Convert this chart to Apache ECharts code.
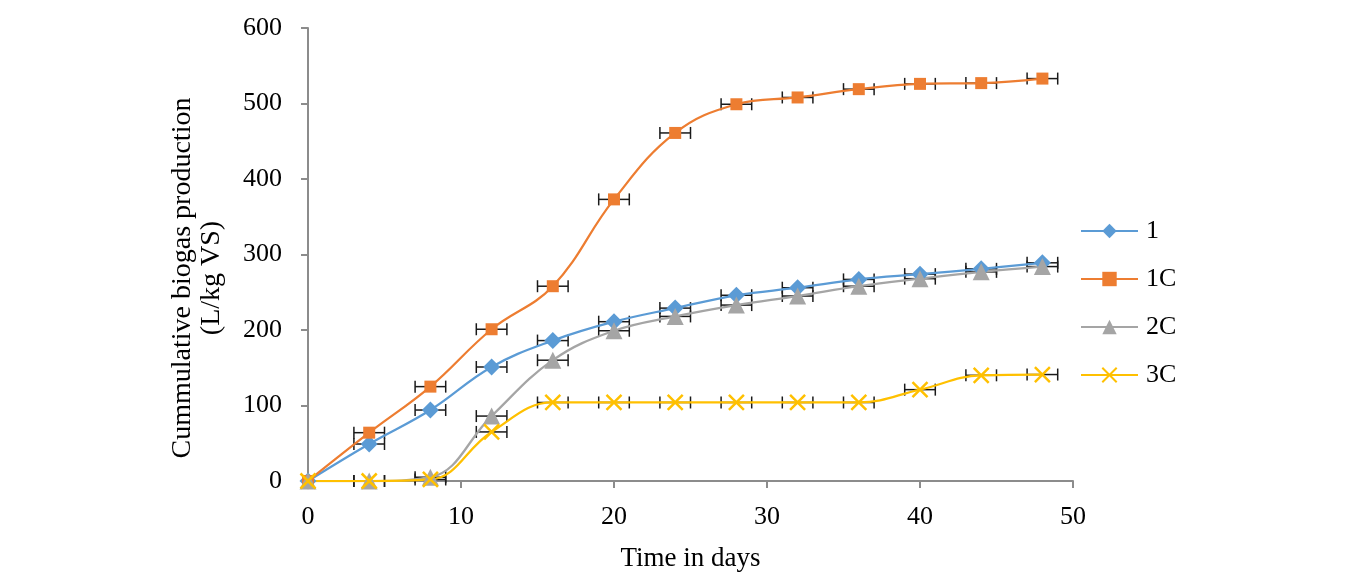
<!DOCTYPE html>
<html>
<head>
<meta charset="utf-8">
<script src="https://cdn.jsdelivr.net/npm/echarts@6/dist/echarts.min.js"></script>
<style>html,body{margin:0;padding:0;background:#fff}#c{width:1350px;height:588px}</style>
</head>
<body>
<div id="c"></div>
<script>
var days = [0, 4, 8, 12, 16, 20, 24, 28, 32, 36, 40, 44, 48];
var s1  = [0, 49, 94, 151, 186, 211, 229, 246, 256, 267, 274, 281, 289];
var s1C = [0, 64, 125, 201, 258, 373, 461, 499, 508, 519, 526, 527, 533];
var s2C = [0, 0, 5, 86, 160, 199, 218, 233, 245, 258, 268, 277, 284];
var s3C = [0, 0, 2, 65, 104, 104, 104, 104, 104, 104, 121, 140, 141];
var xError = [0, 1, 1, 1, 1, 1, 1, 1, 1, 1, 1, 1, 1];
var seriesNames = ['1', '1C', '2C', '3C'];
var xTicks = [0, 10, 20, 30, 40, 50];
var yTicks = [0, 100, 200, 300, 400, 500, 600];

var FONT = '"Liberation Serif","Times New Roman",serif';
var allVals = [s1, s1C, s2C, s3C];
var colors = ['#5B9BD5', '#ED7D31', '#A5A5A5', '#FFC000'];
var symbols = ['diamond', 'rect', 'triangle', 'path://M0,0L10,10M10,0L0,10'];
var sizes = [17, 12, 17, 15];

function pts(arr){ return days.map(function(d,i){ return [d, arr[i]]; }); }
function errPts(arr){ return days.map(function(d,i){ return [d, arr[i], xError[i]]; }); }

var series = [];
allVals.forEach(function(arr, k){
  series.push({
    type: 'custom',
    name: seriesNames[k] + ' err',
    z: 2,
    silent: true,
    data: errPts(arr),
    renderItem: function(params, api){
      var x = api.value(0), y = api.value(1), e = api.value(2);
      if (!e) return null;
      var a = api.coord([x - e, y]), b = api.coord([x + e, y]);
      var h = 6;
      var st = {stroke: '#1a1a1a', lineWidth: 1.5};
      return {type: 'group', children: [
        {type: 'line', shape: {x1: a[0], y1: a[1], x2: b[0], y2: b[1]}, style: st},
        {type: 'line', shape: {x1: a[0], y1: a[1] - h, x2: a[0], y2: a[1] + h}, style: st},
        {type: 'line', shape: {x1: b[0], y1: b[1] - h, x2: b[0], y2: b[1] + h}, style: st}
      ]};
    }
  });
});
allVals.forEach(function(arr, k){
  var isX = k === 3;
  series.push({
    type: 'line',
    name: seriesNames[k],
    z: 3,
    smooth: 0.4,
    data: pts(arr),
    symbol: symbols[k],
    symbolSize: sizes[k],
    showAllSymbol: true,
    lineStyle: {color: colors[k], width: 2.25},
    itemStyle: isX ? {color: colors[k], borderColor: colors[k], borderWidth: 2.5} : {color: colors[k], borderWidth: 0},
    emphasis: {disabled: true}
  });
});

var chart = echarts.init(document.getElementById('c'));
chart.setOption({
  animation: false,
  backgroundColor: '#fff',
  grid: {left: 308, right: 277, top: 28, bottom: 107, containLabel: false},
  legend: {
    orient: 'vertical',
    left: 1075,
    top: 213,
    data: seriesNames,
    itemWidth: 57,
    itemHeight: 18,
    itemGap: 22,
    textStyle: {fontFamily: FONT, fontSize: 26, color: '#000', padding: [0, 0, 0, 3]}
  },
  xAxis: {
    type: 'value',
    min: xTicks[0],
    max: xTicks[xTicks.length - 1],
    interval: 10,
    name: 'Time in days',
    nameLocation: 'middle',
    nameGap: 64,
    nameTextStyle: {fontFamily: FONT, fontSize: 27, color: '#000'},
    axisLine: {show: true, lineStyle: {color: '#8c8c8c', width: 2}},
    axisTick: {show: true, length: 7, lineStyle: {color: '#8c8c8c', width: 2}},
    axisLabel: {fontFamily: FONT, fontSize: 26, color: '#000', margin: 23},
    splitLine: {show: false}
  },
  yAxis: {
    type: 'value',
    min: yTicks[0],
    max: yTicks[yTicks.length - 1],
    interval: 100,
    axisLine: {show: true, lineStyle: {color: '#8c8c8c', width: 2}},
    axisTick: {show: true, length: 7, lineStyle: {color: '#8c8c8c', width: 2}},
    axisLabel: {fontFamily: FONT, fontSize: 26, color: '#000', margin: 26},
    splitLine: {show: false}
  },
  graphic: [{
    type: 'text',
    x: 197,
    y: 278,
    rotation: Math.PI / 2,
    style: {
      text: 'Cummulative biogas production\n(L/kg VS)',
      font: '28px ' + FONT,
      fill: '#000',
      align: 'center',
      verticalAlign: 'middle',
      lineHeight: 29
    }
  }],
  series: series
});
</script>
</body>
</html>
